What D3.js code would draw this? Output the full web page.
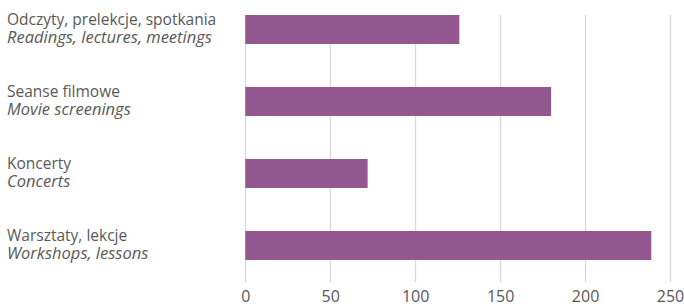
<!DOCTYPE html>
<html>
<head>
<meta charset="utf-8">
<script src="https://cdn.jsdelivr.net/npm/d3@7"></script>
<style>
  body { margin: 0; background: #fff; }
  text { font-family: "Open Sans", sans-serif; fill: #595959; }
</style>
</head>
<body>
<div id="graph"></div>
<script>
// Data
var labelsPl = ["Odczyty, prelekcje, spotkania", "Seanse filmowe", "Koncerty", "Warsztaty, lekcje"];
var labelsEn = ["Readings, lectures, meetings", "Movie screenings", "Concerts", "Workshops, lessons"];
var values = [126, 180, 72, 239];
var xTicks = [0, 50, 100, 150, 200, 250];

const WIDTH = 684;
const HEIGHT = 304;

var svg = d3.select("#graph")
  .append("svg")
  .attr("width", WIDTH)
  .attr("height", HEIGHT);

// Set the ranges
var x = d3.scaleLinear().domain([0, 250]).range([245.3, 670]);
var y = d3.scaleBand()
  .domain(labelsPl)
  .range([-6.5, 281.5])
  .paddingInner(0.597)
  .paddingOuter(0.2985);

var gridTop = y(labelsPl[0]);
var gridBottom = 282;

// gridlines
svg.append("g")
  .selectAll("line")
  .data(xTicks)
  .join("line")
  .attr("x1", function (d) { return Math.round(x(d)) + 0.5; })
  .attr("x2", function (d) { return Math.round(x(d)) + 0.5; })
  .attr("y1", gridTop)
  .attr("y2", gridBottom)
  .attr("stroke", "#d9d9d9")
  .attr("stroke-width", 1.3);

// bars
svg.append("g")
  .selectAll("rect")
  .data(values)
  .join("rect")
  .attr("x", x(0))
  .attr("y", function (d, i) { return y(labelsPl[i]); })
  .attr("width", function (d) { return x(d) - x(0); })
  .attr("height", y.bandwidth())
  .attr("fill", "#93588f");

// x axis tick labels
var xAxis = d3.axisBottom(x).tickValues(xTicks).tickSize(0).tickPadding(0);
var gx = svg.append("g")
  .attr("transform", "translate(0," + 302 + ")")
  .call(xAxis);
gx.select(".domain").remove();
gx.selectAll("text")
  .attr("y", 0)
  .attr("dy", 0)
  .style("font-size", "16px")
  .style("fill", "#595959")
  .style("font-family", "'Open Sans', sans-serif");

// category labels, two lines each
var lab = svg.append("g")
  .selectAll("g")
  .data(labelsPl)
  .join("g")
  .attr("transform", function (d) { return "translate(7," + (y(d) + y.bandwidth() / 2) + ")"; });

lab.append("text")
  .attr("y", -5)
  .style("font-size", "15.5px")
  .text(function (d) { return d; });

lab.append("text")
  .attr("y", 13.5)
  .style("font-size", "16.5px")
  .style("font-style", "italic")
  .text(function (d, i) { return labelsEn[i]; });
</script>
</body>
</html>
